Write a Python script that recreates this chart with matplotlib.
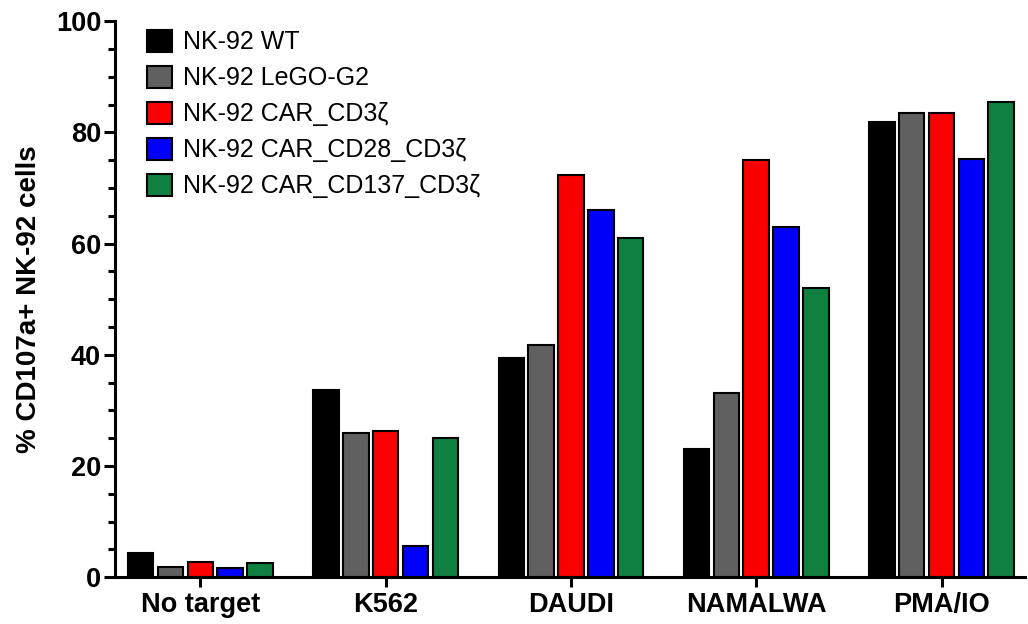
import numpy as np
import matplotlib
matplotlib.use("Agg")
import matplotlib.pyplot as plt
from matplotlib.ticker import MultipleLocator

plt.rcParams['font.family'] = ['Liberation Sans', 'DejaVu Sans']

targets = ['No target', 'K562', 'DAUDI', 'NAMALWA', 'PMA/IO']
series = ['NK-92 WT', 'NK-92 LeGO-G2', 'NK-92 CAR_CD3ζ',
          'NK-92 CAR_CD28_CD3ζ', 'NK-92 CAR_CD137_CD3ζ']
colors = ['#000000', '#606060', '#fa0000', '#0000fa', '#108040']

wt = [4.3, 33.6, 39.5, 23.0, 81.8]
lego = [1.8, 25.9, 41.7, 33.2, 83.5]
car_cd3z = [2.7, 26.3, 72.3, 75.0, 83.5]
car_cd28 = [1.6, 5.6, 66.0, 63.0, 75.2]
car_cd137 = [2.6, 25.0, 61.0, 52.0, 85.5]
values = [wt, lego, car_cd3z, car_cd28, car_cd137]

fig = plt.figure(figsize=(10.28, 6.24), dpi=100)
ax = fig.add_axes([0.112, 0.075, 0.885, 0.891])

x = np.arange(len(targets))
step = 0.161
width = 0.138
for i, (vals, lab, c) in enumerate(zip(values, series, colors)):
    ax.bar(x + (i - 2) * step, vals, width, color=c, edgecolor='black',
           linewidth=1.5, label=lab, zorder=2)

ax.set_xlim(-0.46, 4.45)
ax.set_ylim(0, 100)
ax.set_xticks(x)
ax.set_xticklabels(targets, fontsize=19.5, fontweight='bold')
ax.yaxis.set_major_locator(MultipleLocator(20))
ax.yaxis.set_minor_locator(MultipleLocator(5))
for t in ax.get_yticklabels():
    t.set_fontsize(19.5)
    t.set_fontweight('bold')
ax.set_ylabel('% CD107a+ NK-92 cells', fontsize=20, fontweight='bold', labelpad=10)

for s in ['top', 'right']:
    ax.spines[s].set_visible(False)
for s in ['left', 'bottom']:
    ax.spines[s].set_linewidth(2.2)
ax.tick_params(axis='y', which='major', length=8, width=2.2, pad=2)
ax.tick_params(axis='y', which='minor', length=5, width=2.2)
ax.tick_params(axis='x', which='major', length=7, width=2.2, pad=4)

ax.legend(loc='upper left', bbox_to_anchor=(0.018, 1.012), frameon=False,
          fontsize=18, handlelength=1.0, handleheight=1.0, handletextpad=0.45,
          labelspacing=0.45, borderaxespad=0.2)

fig.savefig('out.png', dpi=100)
